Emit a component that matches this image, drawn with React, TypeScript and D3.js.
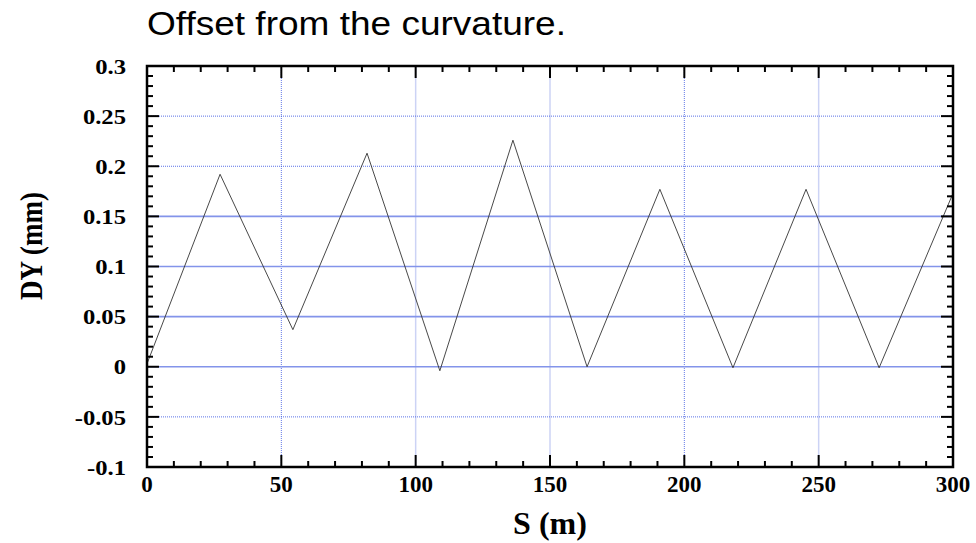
import React, { useEffect, useRef } from 'react';
import * as d3 from 'd3';

// S (m) and DY (mm) at the turning points of the offset
const sValues = [0, 27.2, 54.3, 81.9, 109.0, 136.2, 163.8, 190.9, 218.1, 245.3, 272.5, 300];
const dyValues = [0.003, 0.192, 0.037, 0.213, -0.004, 0.226, 0.0, 0.177, -0.001, 0.177, -0.001, 0.173];

const xTicks = [0, 50, 100, 150, 200, 250, 300];
const yTicks = [-0.1, -0.05, 0, 0.05, 0.1, 0.15, 0.2, 0.25, 0.3];
const yTickLabels = ['-0.1', '-0.05', '0', '0.05', '0.1', '0.15', '0.2', '0.25', '0.3'];

// grid lines: dotted dark blue vs. solid light blue (as seen in the original)
const xGridDotted = [50, 200];
const xGridLight = [100, 150, 250];
const yGridDotted = [0.25, 0.2, -0.05];
const yGridSolid = [0.15, 0.1, 0.05, 0];

const App: React.FC = () => {
  const svgRef = useRef<SVGSVGElement>(null);

  useEffect(() => {
    if (!svgRef.current) return;
    const width = 976;
    const height = 543;
    const margin = { top: 66, right: 23, bottom: 76, left: 147 };
    const iw = width - margin.left - margin.right;
    const ih = height - margin.top - margin.bottom;

    const svg = d3.select(svgRef.current);
    svg.selectAll('*').remove();

    const x = d3.scaleLinear().domain([0, 300]).range([0, iw]);
    const y = d3.scaleLinear().domain([-0.1, 0.3]).range([ih, 0]);

    svg.append('text')
      .attr('x', margin.left)
      .attr('y', 35)
      .attr('textLength', 419)
      .attr('lengthAdjust', 'spacingAndGlyphs')
      .style('font-family', 'Liberation Sans, Arial, sans-serif')
      .style('font-size', '33px')
      .text('Offset from the curvature.');

    const g = svg.append('g')
      .attr('transform', `translate(${margin.left},${margin.top})`);

    // Grid
    g.selectAll('.vgl').data(xGridLight).enter().append('line')
      .attr('x1', d => x(d)).attr('x2', d => x(d))
      .attr('y1', 0).attr('y2', ih)
      .attr('stroke', '#ccd3f5').attr('stroke-width', 1.5);
    g.selectAll('.vgd').data(xGridDotted).enter().append('line')
      .attr('x1', d => x(d)).attr('x2', d => x(d))
      .attr('y1', 0).attr('y2', ih)
      .attr('stroke', '#3a55e0').attr('stroke-width', 0.8)
      .attr('stroke-dasharray', '1,1');
    g.selectAll('.hgs').data(yGridSolid).enter().append('line')
      .attr('x1', 0).attr('x2', iw)
      .attr('y1', d => y(d)).attr('y2', d => y(d))
      .attr('stroke', '#8394ea').attr('stroke-width', 1.6);
    g.selectAll('.hgd').data(yGridDotted).enter().append('line')
      .attr('x1', 0).attr('x2', iw)
      .attr('y1', d => y(d)).attr('y2', d => y(d))
      .attr('stroke', '#2f4ce0').attr('stroke-width', 0.8)
      .attr('stroke-dasharray', '1,1');

    // Data line
    const pts = sValues.map((s, i) => [s, dyValues[i]] as [number, number]);
    g.append('path')
      .datum(pts)
      .attr('fill', 'none')
      .attr('stroke', '#333')
      .attr('stroke-width', 0.9)
      .attr('d', d3.line<[number, number]>().x(d => x(d[0])).y(d => y(d[1])));

    // Ticks (inside, all four sides)
    const xMinor = d3.range(0, 301, 10);
    const yMinor = d3.range(-10, 31, 1).map(v => v / 100);
    const ticks = g.append('g').attr('stroke', '#000').attr('stroke-width', 2);
    xMinor.forEach(v => {
      const major = v % 50 === 0;
      const len = major ? 12 : 6;
      ticks.append('line').attr('x1', x(v)).attr('x2', x(v)).attr('y1', ih).attr('y2', ih - len);
      ticks.append('line').attr('x1', x(v)).attr('x2', x(v)).attr('y1', 0).attr('y2', len);
    });
    yMinor.forEach((v, i) => {
      const major = (i % 5) === 0;
      const len = major ? 12 : 6;
      ticks.append('line').attr('x1', 0).attr('x2', len).attr('y1', y(v)).attr('y2', y(v));
      ticks.append('line').attr('x1', iw).attr('x2', iw - len).attr('y1', y(v)).attr('y2', y(v));
    });

    // Frame
    g.append('rect')
      .attr('x', 0).attr('y', 0).attr('width', iw).attr('height', ih)
      .attr('fill', 'none').attr('stroke', '#000').attr('stroke-width', 2.5);

    // Tick labels
    const labelFont = 'Liberation Serif, Times New Roman, serif';
    g.selectAll('.xl').data(xTicks).enter().append('text')
      .attr('x', d => x(d))
      .attr('y', ih + 25)
      .attr('text-anchor', 'middle')
      .style('font-family', labelFont)
      .style('font-weight', 'bold')
      .style('font-size', '23px')
      .text(d => String(d));
    g.selectAll('.yl').data(yTicks).enter().append('g')
      .attr('transform', d => `translate(-21,${y(d)}) scale(1.12,1)`)
      .append('text')
      .attr('dy', '0.35em')
      .attr('text-anchor', 'end')
      .style('font-family', labelFont)
      .style('font-weight', 'bold')
      .style('font-size', '22px')
      .text((d, i) => yTickLabels[i]);

    // Axis titles
    svg.append('text')
      .attr('x', margin.left + iw / 2)
      .attr('y', 534)
      .attr('text-anchor', 'middle')
      .style('font-family', labelFont)
      .style('font-weight', 'bold')
      .style('font-size', '32px')
      .text('S (m)');
    svg.append('text')
      .attr('transform', `translate(42,246) rotate(-90)`)
      .attr('x', -54)
      .attr('textLength', 108)
      .attr('lengthAdjust', 'spacingAndGlyphs')
      .style('font-family', labelFont)
      .style('font-weight', 'bold')
      .style('font-size', '31px')
      .text('DY (mm)');
  }, []);

  return (
    <svg ref={svgRef} width={976} height={543}
      style={{ position: 'absolute', left: 0, top: 0, background: '#fff' }} />
  );
};

export default App;
